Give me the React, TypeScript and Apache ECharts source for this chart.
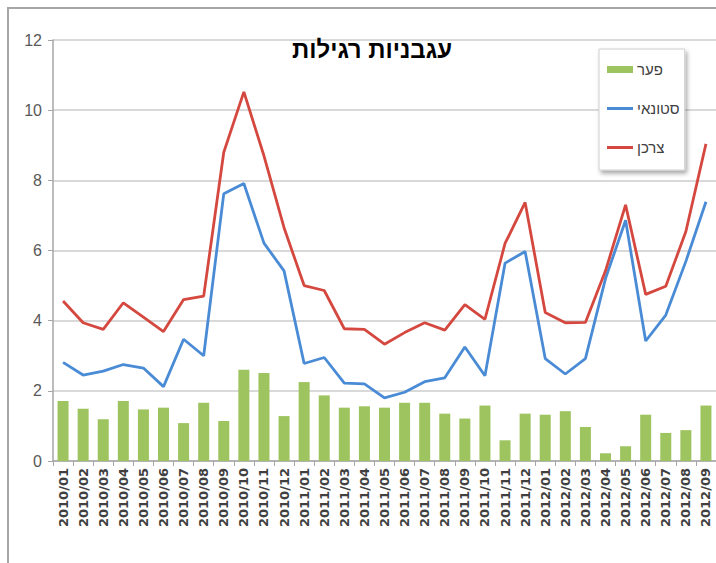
import React, { useEffect, useRef } from "react";
import * as echarts from "echarts";

const TITLE = "עגבניות רגילות";
const SERIES_NAMES = ["פער", "סטונאי", "צרכן"];

const categories = [
  "2010/01", "2010/02", "2010/03", "2010/04", "2010/05", "2010/06",
  "2010/07", "2010/08", "2010/09", "2010/10", "2010/11", "2010/12",
  "2011/01", "2011/02", "2011/03", "2011/04", "2011/05", "2011/06",
  "2011/07", "2011/08", "2011/09", "2011/10", "2011/11", "2011/12",
  "2012/01", "2012/02", "2012/03", "2012/04", "2012/05", "2012/06",
  "2012/07", "2012/08", "2012/09",
];

const gapValues = [
  1.71, 1.49, 1.19, 1.71, 1.47, 1.52, 1.08, 1.66, 1.14, 2.6, 2.51, 1.28,
  2.25, 1.87, 1.52, 1.56, 1.52, 1.66, 1.66, 1.35, 1.21, 1.58, 0.59, 1.35,
  1.32, 1.42, 0.97, 0.22, 0.42, 1.32, 0.8, 0.88, 1.58,
];

const wholesaleValues = [
  2.81, 2.45, 2.56, 2.75, 2.65, 2.12, 3.47, 3.0, 7.62, 7.91, 6.21, 5.42,
  2.78, 2.95, 2.22, 2.2, 1.8, 1.96, 2.26, 2.37, 3.25, 2.43, 5.64, 5.97,
  2.92, 2.48, 2.92, 5.2, 6.86, 3.42, 4.16, 5.69, 7.39,
];

const consumerValues = [
  4.56, 3.94, 3.75, 4.51, 4.1, 3.69, 4.6, 4.7, 8.8, 10.52, 8.7, 6.65,
  5.0, 4.86, 3.77, 3.75, 3.33, 3.66, 3.94, 3.73, 4.46, 4.04, 6.2, 7.37,
  4.23, 3.94, 3.95, 5.42, 7.3, 4.75, 4.98, 6.54, 9.04,
];

const GREEN = "#9dc45f";
const BLUE = "#4a8bd6";
const RED = "#d4483f";
const LINE_ICON = "path://M0,0H26V3H0Z";

export default function App() {
  const ref = useRef<HTMLDivElement>(null);

  useEffect(() => {
    if (!ref.current) return;
    const chart = echarts.init(ref.current, undefined, { renderer: "svg" });
    chart.setOption({
      animation: false,
      backgroundColor: "#ffffff",
      graphic: [
        {
          type: "rect",
          z: -10,
          shape: { x: 8, y: 8, width: 740, height: 620 },
          style: { fill: "none", stroke: "#a6a6a6", lineWidth: 2 },
        },
        {
          type: "text",
          z: 10,
          x: 372,
          y: 49,
          style: {
            text: TITLE,
            align: "center",
            verticalAlign: "middle",
            fontFamily: "Liberation Sans",
            fontWeight: "bold",
            fontSize: 24,
            fill: "#000000",
          },
        },
      ],
      grid: { left: 53, right: 0, top: 40, bottom: 102 },
      legend: {
        orient: "vertical",
        left: 599,
        top: 49,
        padding: [13, 5, 15, 8],
        itemWidth: 26,
        itemHeight: 7,
        itemGap: 24,
        backgroundColor: "#ffffff",
        borderColor: "#d0d0d0",
        borderWidth: 1,
        shadowBlur: 4,
        shadowOffsetX: 2,
        shadowOffsetY: 3,
        shadowColor: "rgba(0,0,0,0.35)",
        textStyle: {
          fontFamily: "Liberation Sans",
          fontSize: 15,
          color: "#404040",
          padding: [0, 0, 0, -1],
        },
        data: [
          { name: SERIES_NAMES[0], icon: "rect" },
          { name: SERIES_NAMES[1], icon: LINE_ICON },
          { name: SERIES_NAMES[2], icon: LINE_ICON },
        ],
      },
      xAxis: {
        type: "category",
        data: categories,
        boundaryGap: true,
        axisLine: { show: true, lineStyle: { color: "#a6a6a6", width: 1.5 } },
        axisTick: { show: true, length: 5, lineStyle: { color: "#a6a6a6" } },
        axisLabel: {
          interval: 0,
          rotate: 90,
          margin: 7,
          fontFamily: "DejaVu Sans",
          fontWeight: "bold",
          fontSize: 13,
          color: "#404040",
        },
        splitLine: { show: false },
      },
      yAxis: {
        type: "value",
        min: 0,
        max: 12,
        interval: 2,
        axisLine: { show: true, lineStyle: { color: "#a6a6a6", width: 1.5 } },
        axisTick: { show: true, length: 5, lineStyle: { color: "#a6a6a6" } },
        axisLabel: {
          margin: 11,
          fontFamily: "Liberation Sans",
          fontSize: 16,
          color: "#595959",
        },
        splitLine: { show: true, lineStyle: { color: "#d9d9d9", width: 2 } },
      },
      series: [
        {
          name: SERIES_NAMES[0],
          type: "bar",
          data: gapValues,
          barWidth: 11,
          itemStyle: { color: GREEN },
        },
        {
          name: SERIES_NAMES[1],
          type: "line",
          data: wholesaleValues,
          symbol: "none",
          lineStyle: { color: BLUE, width: 2.8 },
          itemStyle: { color: BLUE },
        },
        {
          name: SERIES_NAMES[2],
          type: "line",
          data: consumerValues,
          symbol: "none",
          lineStyle: { color: RED, width: 2.8 },
          itemStyle: { color: RED },
        },
      ],
    });
    return () => chart.dispose();
  }, []);

  return (
    <div
      ref={ref}
      style={{ position: "absolute", left: 0, top: 0, width: 716, height: 563 }}
    />
  );
}
